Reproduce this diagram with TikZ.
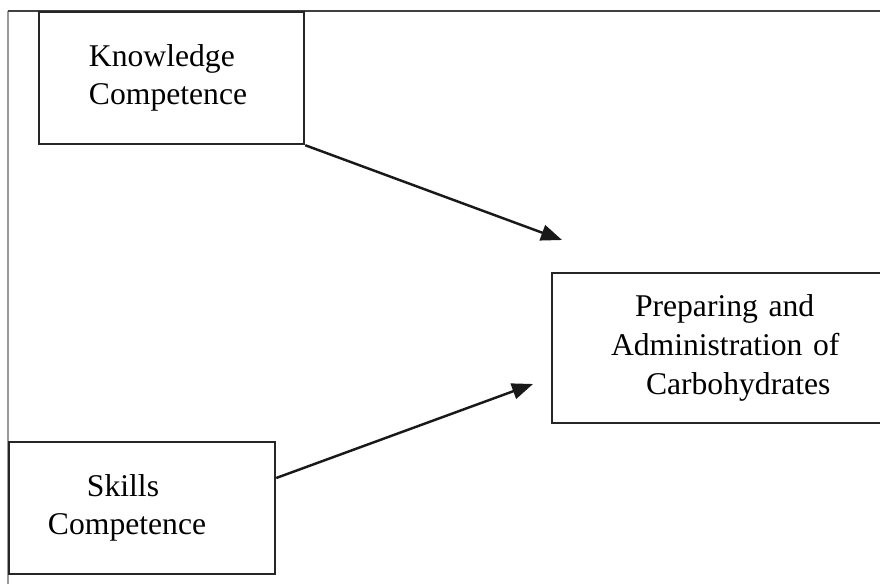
\documentclass[tikz,border=0pt]{standalone}
\usepackage{fontspec}
\setmainfont{Liberation Serif}
\usetikzlibrary{arrows.meta}

\begin{document}
\begin{tikzpicture}[
  box/.style={draw=black!85,line width=1.4pt,inner xsep=0pt,inner ysep=0pt,
    align=left,font=\fontsize{18}{22}\selectfont},
  link/.style={line width=1.4pt,draw=black!90,-{Triangle[length=0.42cm,width=0.32cm]}}
]
\useasboundingbox (0,0) rectangle (17.6,11.68);

% Frame
\draw[gray!80,line width=1pt] (0.16,0) -- (0.16,11.46);
\draw[black!75,line width=1.2pt] (0.16,11.46) -- (17.6,11.46);

% Boxes
\node[box,text width=5.3cm,minimum height=2.64cm] (know) at (3.43,10.12)
  {\hspace*{1.0cm}Knowledge\\\hspace*{1.0cm}Competence};
\node[box,text width=5.32cm,minimum height=2.64cm] (skill) at (2.84,1.52)
  {\hspace*{1.56cm}Skills\\\hspace*{0.78cm}Competence};
\node[box,text width=6.6cm,minimum height=3.0cm] (prep) at (14.34,4.72)
  {\hspace*{1.66cm}Preparing and\\\hspace*{1.18cm}Administration of\\\hspace*{1.88cm}Carbohydrates};

% Arrows (free ends stop short of the box)
\coordinate (know-end) at (11.24,6.88);
\coordinate (skill-end) at (10.66,4.0);
\draw[link] (know.south east) -- (know-end);
\draw[link] ([yshift=0.6cm]skill.east) -- (skill-end);

\end{tikzpicture}
\end{document}
